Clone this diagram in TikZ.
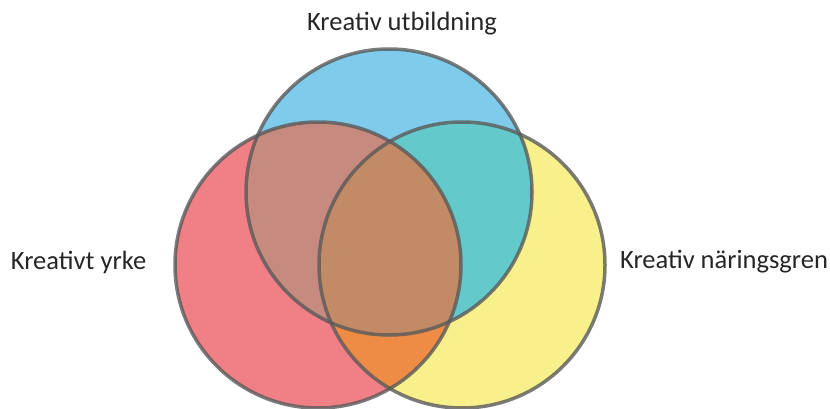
\documentclass[tikz,border=0pt]{standalone}
\usepackage{fontspec}
\setmainfont{Carlito}
\usepackage{xcolor}
\definecolor{venn-blue}{HTML}{7FCBEC}
\definecolor{venn-red}{HTML}{F07F86}
\definecolor{venn-yellow}{HTML}{F8F08A}
\definecolor{venn-redblue}{HTML}{C68A7E}
\definecolor{venn-blueyellow}{HTML}{64C9CB}
\definecolor{venn-redyellow}{HTML}{EE8C46}
\definecolor{venn-all}{HTML}{C38A66}
\definecolor{venn-gray}{HTML}{5A5A5A}
\tikzset{
    venn-outline/.style = {draw=venn-gray, draw opacity=0.8, line width=3.5pt},
    venn-label/.style = {font=\fontsize{26.5}{30}\selectfont, text=black!85, inner sep=0pt},
}
\def\utbCircle{(389,216) circle (143)}
\def\yrkeCircle{(318,143) circle (143)}
\def\naringCircle{(462,143) circle (143)}

\begin{document}
\begin{tikzpicture}[x=1pt, y=1pt]
\useasboundingbox (0,0) rectangle (830,408);
\begin{scope}
    \clip (0,0) rectangle (830,408);
    % plain circles
    \fill[venn-blue] \utbCircle;
    \fill[venn-red] \yrkeCircle;
    \fill[venn-yellow] \naringCircle;
    % pairwise overlaps
    \begin{scope}
        \clip \yrkeCircle;
        \fill[venn-redblue] \utbCircle;
    \end{scope}
    \begin{scope}
        \clip \naringCircle;
        \fill[venn-blueyellow] \utbCircle;
    \end{scope}
    \begin{scope}
        \clip \yrkeCircle;
        \fill[venn-redyellow] \naringCircle;
    \end{scope}
    % middle
    \begin{scope}
        \clip \yrkeCircle;
        \clip \naringCircle;
        \fill[venn-all] \utbCircle;
    \end{scope}
    % outlines
    \path[venn-outline] \yrkeCircle;
    \path[venn-outline] \naringCircle;
    \path[venn-outline] \utbCircle;
\end{scope}
\node[venn-label] (utb) at (402,384) {Kreativ utbildning};
\node[venn-label] (yrke) at (78.5,146) {Kreativt yrke};
\node[venn-label] (naring) at (724,146) {Kreativ näringsgren};
\end{tikzpicture}
\end{document}
